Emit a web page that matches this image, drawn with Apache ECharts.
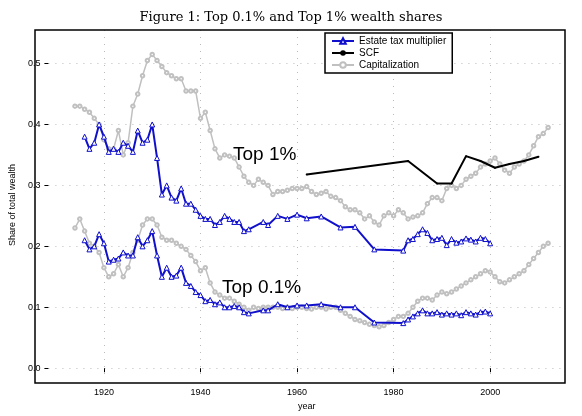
<!DOCTYPE html>
<html><head><meta charset="utf-8">
<script src="https://cdn.jsdelivr.net/npm/echarts@6/dist/echarts.min.js"></script>
<style>html,body{margin:0;padding:0;background:#fff}#c{width:582px;height:416px}</style>
</head><body><div id="c"></div>
<script>
const xTicks=[1920,1940,1960,1980,2000];
const yTicks=[0,0.1,0.2,0.3,0.4,0.5];
const estYears=[1916,1917,1918,1919,1920,1921,1922,1923,1924,1925,1926,1927,1928,1929,1930,1931,1932,1933,1934,1935,1936,1937,1938,1939,1940,1941,1942,1943,1944,1945,1946,1947,1948,1949,1950,1953,1954,1956,1958,1960,1962,1965,1969,1972,1976,1982,1983,1984,1985,1986,1987,1988,1989,1990,1991,1992,1993,1994,1995,1996,1997,1998,1999,2000];
const estTop1=[0.38,0.36,0.37,0.40,0.38,0.355,0.36,0.355,0.37,0.365,0.355,0.39,0.37,0.375,0.40,0.345,0.285,0.30,0.28,0.275,0.295,0.27,0.27,0.26,0.25,0.245,0.245,0.235,0.24,0.25,0.245,0.24,0.24,0.225,0.228,0.24,0.235,0.25,0.245,0.252,0.246,0.249,0.231,0.232,0.195,0.193,0.21,0.212,0.22,0.228,0.222,0.21,0.212,0.214,0.202,0.212,0.206,0.208,0.213,0.211,0.208,0.214,0.212,0.205];
const estTop01=[0.21,0.195,0.2,0.22,0.205,0.175,0.178,0.18,0.19,0.185,0.185,0.215,0.2,0.21,0.225,0.185,0.15,0.165,0.15,0.152,0.165,0.14,0.135,0.125,0.12,0.11,0.112,0.105,0.108,0.1,0.1,0.102,0.1,0.092,0.09,0.095,0.095,0.105,0.1,0.103,0.103,0.105,0.1,0.1,0.075,0.074,0.08,0.085,0.09,0.095,0.09,0.09,0.092,0.088,0.09,0.088,0.09,0.087,0.092,0.09,0.088,0.092,0.093,0.09];
const scfYears=[1962,1983,1989,1992,1995,1998,2001,2004,2007,2010];
const scfTop1=[0.318,0.34,0.303,0.303,0.348,0.34,0.329,0.335,0.34,0.347];
const capYears=[];for(let y=1914;y<=2012;y++)capYears.push(y);
const capTop1=[0.43,0.43,0.425,0.42,0.41,0.40,0.375,0.36,0.36,0.39,0.35,0.37,0.43,0.45,0.48,0.505,0.515,0.505,0.495,0.485,0.48,0.475,0.475,0.455,0.455,0.455,0.41,0.42,0.39,0.36,0.345,0.35,0.348,0.345,0.33,0.315,0.305,0.30,0.31,0.305,0.30,0.285,0.29,0.29,0.292,0.295,0.295,0.295,0.298,0.29,0.285,0.287,0.29,0.282,0.28,0.275,0.265,0.26,0.26,0.255,0.245,0.25,0.24,0.235,0.25,0.255,0.25,0.26,0.255,0.245,0.248,0.25,0.255,0.27,0.28,0.28,0.275,0.295,0.30,0.295,0.30,0.31,0.315,0.32,0.33,0.335,0.34,0.345,0.335,0.325,0.32,0.33,0.335,0.34,0.35,0.365,0.38,0.385,0.395,0.405,0.418];
const capTop01=[0.23,0.245,0.225,0.205,0.2,0.19,0.165,0.15,0.155,0.17,0.15,0.165,0.19,0.21,0.235,0.245,0.245,0.235,0.215,0.21,0.21,0.205,0.2,0.195,0.185,0.175,0.16,0.165,0.14,0.125,0.12,0.115,0.115,0.11,0.105,0.1,0.095,0.1,0.098,0.1,0.1,0.1,0.1,0.098,0.1,0.098,0.1,0.1,0.098,0.097,0.1,0.1,0.097,0.1,0.1,0.095,0.09,0.085,0.08,0.078,0.075,0.072,0.07,0.068,0.07,0.075,0.08,0.085,0.085,0.09,0.1,0.11,0.115,0.115,0.112,0.12,0.125,0.122,0.125,0.13,0.135,0.14,0.145,0.15,0.155,0.16,0.158,0.15,0.142,0.14,0.145,0.15,0.155,0.16,0.17,0.18,0.19,0.2,0.205,0.22];
const names=['Estate tax multiplier','SCF','Capitalization'];
const zip=(a,b)=>a.map((x,i)=>[x,b[i]]);
const F='Liberation Sans, Arial, sans-serif';
const blue='#1010cc', grey='#c0c0c0';
const estStyle={type:'line',name:names[0],symbol:'triangle',symbolSize:5,lineStyle:{color:blue,width:2},itemStyle:{color:'#fff',borderColor:blue,borderWidth:1},z:4};
const capStyle={type:'line',name:names[2],symbol:'emptyCircle',symbolSize:3.5,lineStyle:{color:grey,width:1.5},itemStyle:{color:grey},z:2};
const chart=echarts.init(document.getElementById('c'));
chart.setOption({
 animation:false,
 title:{text:'Figure 1: Top 0.1% and Top 1% wealth shares',left:'center',top:6,textStyle:{fontFamily:'DejaVu Serif, serif',fontWeight:'normal',fontSize:13,color:'#000'}},
 legend:{data:names,left:325,top:33,orient:'vertical',itemGap:2,itemWidth:22,itemHeight:7,backgroundColor:'#fff',borderColor:'#000',borderWidth:1.5,borderRadius:0,padding:[3,6,3,6],textStyle:{fontFamily:F,fontSize:10,color:'#000'},z:10},
 grid:{left:35,right:17,top:30,bottom:33},
 xAxis:{type:'value',min:1908.5,max:2015.5,name:'year',nameLocation:'middle',nameGap:21,nameTextStyle:{fontFamily:F,fontSize:9,color:'#000'},
  axisLine:{show:false},axisTick:{show:true,customValues:xTicks,length:4,lineStyle:{color:'#000'}},
  axisLabel:{customValues:xTicks,formatter:v=>String(v),fontFamily:F,fontSize:9,color:'#000'},splitLine:{show:true,lineStyle:{type:[1,6],color:'#bbb'}}},
 yAxis:{type:'value',min:-0.0195,max:0.555,name:'Share of total wealth',nameLocation:'middle',nameGap:24,nameTextStyle:{fontFamily:F,fontSize:9,color:'#000'},
  axisLine:{show:false},axisTick:{show:true,customValues:yTicks,length:4,lineStyle:{color:'#000'}},
  axisLabel:{customValues:yTicks,formatter:v=>v.toFixed(1),fontFamily:F,fontSize:9,color:'#000'},splitLine:{show:true,lineStyle:{type:[1,6],color:'#bbb'}}},
 graphic:[
  {type:'rect',shape:{x:35,y:30,width:530,height:353},style:{fill:null,stroke:'#000',lineWidth:1.5},z:100},
  {type:'text',left:233,top:145,style:{text:'Top 1%',fontFamily:F,fontSize:19,fill:'#000'},z:100},
  {type:'text',left:222,top:278,style:{text:'Top 0.1%',fontFamily:F,fontSize:19,fill:'#000'},z:100}
 ],
 series:[
  Object.assign({data:zip(estYears,estTop1)},estStyle),
  Object.assign({data:zip(estYears,estTop01)},estStyle),
  {type:'line',name:names[1],data:zip(scfYears,scfTop1),symbol:'circle',symbolSize:2,lineStyle:{color:'#000',width:2},itemStyle:{color:'#000'},z:5},
  Object.assign({data:zip(capYears,capTop1)},capStyle),
  Object.assign({data:zip(capYears,capTop01)},capStyle)
 ]
});
</script></body></html>
